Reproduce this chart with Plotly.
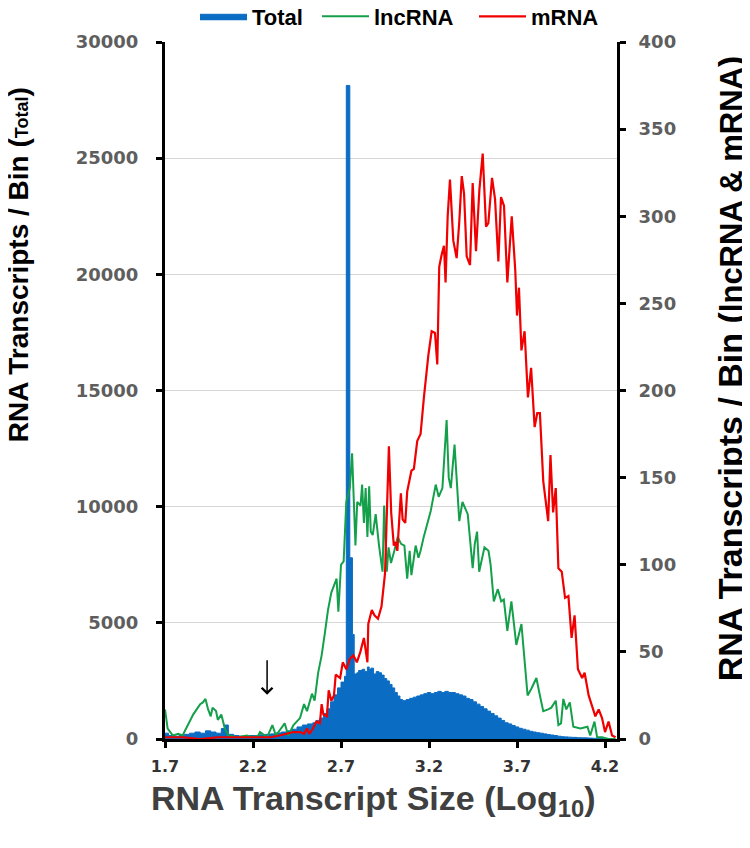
import plotly.graph_objects as go

# ---------------- data ----------------
# Total transcripts per bin (left axis), histogram steps
total_x = [1.70, 1.72, 1.75, 1.78, 1.81, 1.84, 1.87, 1.90, 1.93, 1.96, 1.99, 2.02, 2.04, 2.06,
           2.09, 2.12, 2.15, 2.18, 2.21, 2.24, 2.27, 2.30, 2.33, 2.36, 2.39, 2.42, 2.45, 2.48,
           2.51, 2.54, 2.56, 2.58, 2.60, 2.62, 2.64, 2.66, 2.68, 2.70, 2.72, 2.73, 2.75, 2.765,
           2.775, 2.79, 2.80, 2.82, 2.835, 2.85, 2.86, 2.87, 2.885, 2.90, 2.915, 2.93, 2.945,
           2.96, 2.975, 2.99, 3.005, 3.02, 3.035, 3.05, 3.07, 3.09, 3.11, 3.13, 3.15, 3.17, 3.19,
           3.21, 3.23, 3.25, 3.27, 3.29, 3.31, 3.33, 3.35, 3.37, 3.39, 3.41, 3.43, 3.45, 3.47,
           3.49, 3.51, 3.53, 3.55, 3.57, 3.59, 3.61, 3.63, 3.65, 3.67, 3.69, 3.71, 3.73, 3.75,
           3.77, 3.79, 3.81, 3.83, 3.85, 3.87, 3.89, 3.91, 3.93, 3.95, 3.97, 3.99, 4.01, 4.04,
           4.07, 4.10, 4.13, 4.16, 4.19, 4.22, 4.25]
total_y = [250, 150, 120, 150, 200, 250, 300, 250, 350, 300, 250, 450, 600, 200,
           150, 120, 120, 150, 150, 180, 200, 220, 260, 300, 350, 420, 520, 600,
           650, 700, 800, 900, 1100, 1300, 1600, 1900, 2200, 2450, 2700, 28130, 7800, 4500,
           2800, 2850, 2950, 3000, 2900, 3100, 3000, 3050, 2800, 2900, 2850, 2750, 2600,
           2500, 2350, 2200, 2000, 1850, 1700, 1650, 1700, 1750, 1800, 1850, 1900, 1950, 2000,
           1950, 2000, 2050, 2000, 2050, 2000, 2000, 1950, 1900, 1850, 1750, 1700, 1600, 1500,
           1400, 1300, 1200, 1100, 1000, 900, 800, 700, 650, 580, 520, 460, 420, 380,
           330, 300, 270, 250, 220, 190, 170, 150, 120, 100, 90, 80, 70, 55,
           50, 40, 30, 20, 15, 10, 5]

# lncRNA transcripts per bin (right axis)
lnc_x = [1.70, 1.715, 1.745, 1.775, 1.80, 1.83, 1.86, 1.88, 1.90, 1.915, 1.93, 1.945, 1.96,
         1.97, 1.99, 2.00, 2.02, 2.04, 2.06, 2.11, 2.165, 2.20, 2.23, 2.24, 2.28, 2.31, 2.33,
         2.38, 2.40, 2.43, 2.467, 2.49, 2.507, 2.535, 2.55, 2.57, 2.59, 2.61, 2.626, 2.645,
         2.66, 2.675, 2.685, 2.70, 2.715, 2.73, 2.75, 2.763, 2.773, 2.782, 2.792, 2.811, 2.82,
         2.83, 2.84, 2.85, 2.86, 2.869, 2.88, 2.897, 2.916, 2.936, 2.945, 2.96, 2.97, 2.984,
         3.003, 3.022, 3.041, 3.06, 3.076, 3.09, 3.10, 3.124, 3.14, 3.152, 3.17, 3.194, 3.21,
         3.238, 3.255, 3.276, 3.30, 3.312, 3.324, 3.345, 3.372, 3.39, 3.42, 3.448, 3.46, 3.473,
         3.485, 3.515, 3.538, 3.55, 3.568, 3.591, 3.61, 3.625, 3.645, 3.668, 3.696, 3.725,
         3.744, 3.76, 3.782, 3.81, 3.83, 3.849, 3.877, 3.895, 3.92, 3.935, 3.95, 3.963, 3.98,
         4.00, 4.02, 4.06, 4.10, 4.116, 4.14, 4.155, 4.183, 4.22, 4.26]
lnc_y = [17, 6, 2, 3, 2, 8, 14, 17, 20, 21, 23, 17, 13,
         18, 16, 11, 14, 6, 2, 1, 2, 1, 2, 4, 1, 8, 2,
         9, 2, 8, 12, 20, 16, 26, 22, 38, 48, 62, 74, 84,
         88, 92, 73, 100, 102, 136, 144, 164, 136, 111, 136, 134, 146,
         124, 144, 116, 145, 119, 117, 129, 111, 96, 134, 96, 110, 101,
         108, 116, 112, 111, 92, 108, 94, 111, 104, 108, 116, 126, 131,
         146, 139, 144, 183, 150, 144, 169, 125, 136, 129, 98, 112, 119,
         96, 110, 108, 100, 79, 86, 79, 80, 62, 79, 54, 66,
         44, 25, 29, 35, 25, 16, 17, 18, 22, 8, 9, 23, 17,
         21, 7, 6, 7, 2, 10, 1, 1, 0, 0]

# mRNA transcripts per bin (right axis)
mrna_x = [1.70, 1.80, 1.90, 2.00, 2.10, 2.20, 2.30, 2.35, 2.40, 2.43, 2.467, 2.49, 2.507, 2.52,
          2.541, 2.56, 2.58, 2.59, 2.60, 2.62, 2.63, 2.645, 2.66, 2.67, 2.695, 2.71, 2.73, 2.75,
          2.77, 2.79, 2.81, 2.83, 2.85, 2.855, 2.875, 2.89, 2.91, 2.93, 2.95, 2.96, 2.972, 2.985,
          3.00, 3.01, 3.02, 3.04, 3.05, 3.065, 3.076, 3.10, 3.114, 3.133, 3.152, 3.171, 3.185,
          3.196, 3.215, 3.234, 3.247, 3.258, 3.272, 3.285, 3.294, 3.306, 3.319, 3.338, 3.357,
          3.372, 3.386, 3.399, 3.414, 3.433, 3.448, 3.467, 3.486, 3.505, 3.524, 3.537, 3.558,
          3.575, 3.594, 3.609, 3.626, 3.645, 3.67, 3.69, 3.70, 3.711, 3.725, 3.743, 3.762, 3.78,
          3.80, 3.815, 3.83, 3.849, 3.877, 3.89, 3.905, 3.92, 3.935, 3.954, 3.973, 3.992, 4.01,
          4.027, 4.046, 4.07, 4.084, 4.107, 4.126, 4.145, 4.164, 4.183, 4.20, 4.22, 4.24, 4.26]
mrna_y = [1, 1, 0, 1, 1, 1, 1, 2, 3, 4, 4, 3, 6, 3,
          6, 10, 9, 20, 14, 13, 28, 22, 25, 37, 35, 44, 40, 46,
          48, 44, 50, 58, 44, 66, 74, 71, 69, 76, 95, 134, 168, 130,
          111, 113, 108, 141, 126, 124, 142, 154, 155, 171, 175, 196, 212,
          220, 234, 233, 215, 271, 278, 283, 262, 300, 321, 286, 276,
          297, 323, 313, 277, 272, 319, 280, 315, 336, 294, 296, 322,
          310, 274, 311, 306, 262, 300, 269, 243, 259, 223, 234, 196, 213,
          179, 187, 187, 148, 125, 163, 130, 144, 98, 96, 81, 82, 58,
          71, 40, 35, 38, 25, 19, 13, 17, 12, 4, 10, 2, 1]

x_ticks = [1.7, 2.2, 2.7, 3.2, 3.7, 4.2]
left_ticks = [0, 5000, 10000, 15000, 20000, 25000, 30000]
right_ticks = [0, 50, 100, 150, 200, 250, 300, 350, 400]

BLUE = "#0b6cc3"
GREEN = "#14a04a"
RED = "#f00000"
ARIAL = "Liberation Sans, Arial, sans-serif"
WIDE = "DejaVu Sans, Verdana, sans-serif"

fig = go.Figure()
fig.add_trace(go.Scatter(
    x=total_x, y=total_y, name="Total", mode="lines",
    line=dict(shape="hv", width=1, color=BLUE),
    fill="tozeroy", fillcolor=BLUE, yaxis="y", legend="legend"))
fig.add_trace(go.Scatter(
    x=lnc_x, y=lnc_y, name="lncRNA", mode="lines",
    line=dict(color=GREEN, width=2), yaxis="y2", legend="legend2"))
fig.add_trace(go.Scatter(
    x=mrna_x, y=mrna_y, name="mRNA", mode="lines",
    line=dict(color=RED, width=2.2), yaxis="y2", legend="legend3"))

axis_common = dict(showline=True, linecolor="black", linewidth=3,
                   ticks="outside", ticklen=6, tickwidth=3, tickcolor="black",
                   zeroline=False)

legend_common = dict(orientation="h", xanchor="left", y=1.0366, yanchor="middle",
                     font=dict(family=ARIAL, size=22, color="black", weight="bold"),
                     itemwidth=47, bgcolor="rgba(0,0,0,0)")

# the page body adds an 8 px offset, so the figure is 742x840 to fill the window
fig.update_layout(
    width=742, height=840,
    margin=dict(l=157, r=133, t=34, b=109, autoexpand=False),
    plot_bgcolor="white", paper_bgcolor="white",
    showlegend=True,
    legend=dict(x=0.0664, **legend_common),
    legend2=dict(x=0.3363, **legend_common),
    legend3=dict(x=0.6836, **legend_common),
    xaxis=dict(range=[1.7, 4.268], tickvals=x_ticks, tickformat=".1f",
               tickfont=dict(family=WIDE, size=16, color="#333333", weight="bold"),
               ticklabelstandoff=5, showgrid=False, **axis_common),
    yaxis=dict(range=[0, 30000], tickvals=left_ticks, tickformat="d",
               tickfont=dict(family=WIDE, size=18, color="#5e5e5e", weight="bold"),
               showgrid=True, gridcolor="#d6d6d6", gridwidth=1,
               ticklabelstandoff=14, **axis_common),
    yaxis2=dict(range=[0, 400], tickvals=right_ticks, tickformat="d", overlaying="y",
                side="right", showgrid=False,
                tickfont=dict(family=WIDE, size=18, color="#5e5e5e", weight="bold"),
                ticklabelstandoff=9, **axis_common),
)

fig.add_annotation(
    x=2.28, y=1900, xref="x", yref="y", text="", showarrow=True,
    ax=0, ay=-36, arrowhead=4, arrowsize=1.4, arrowwidth=1.5, arrowcolor="black")

fig.add_annotation(
    xref="paper", yref="paper", x=-0.325, y=0.68, textangle=-90,
    xanchor="center", yanchor="middle", showarrow=False,
    text="RNA Transcripts / Bin (<span style='font-size:18px'>Total</span>)",
    font=dict(family=ARIAL, size=28, color="black", weight="bold"))

fig.add_annotation(
    xref="paper", yref="paper", x=1.25, y=0.532, textangle=-90,
    xanchor="center", yanchor="middle", showarrow=False,
    text="RNA Transcripts / Bin (<span style='font-size:31px'>lncRNA &amp; mRNA</span>)",
    font=dict(family=ARIAL, size=34, color="black", weight="bold"))

fig.add_annotation(
    xref="paper", yref="paper", x=0.462, y=-0.088,
    xanchor="center", yanchor="middle", showarrow=False,
    text="RNA Transcript Size (Log<sub>10</sub>)",
    font=dict(family=ARIAL, size=34, color="#404040", weight="bold"))

fig.write_html("out.html")
